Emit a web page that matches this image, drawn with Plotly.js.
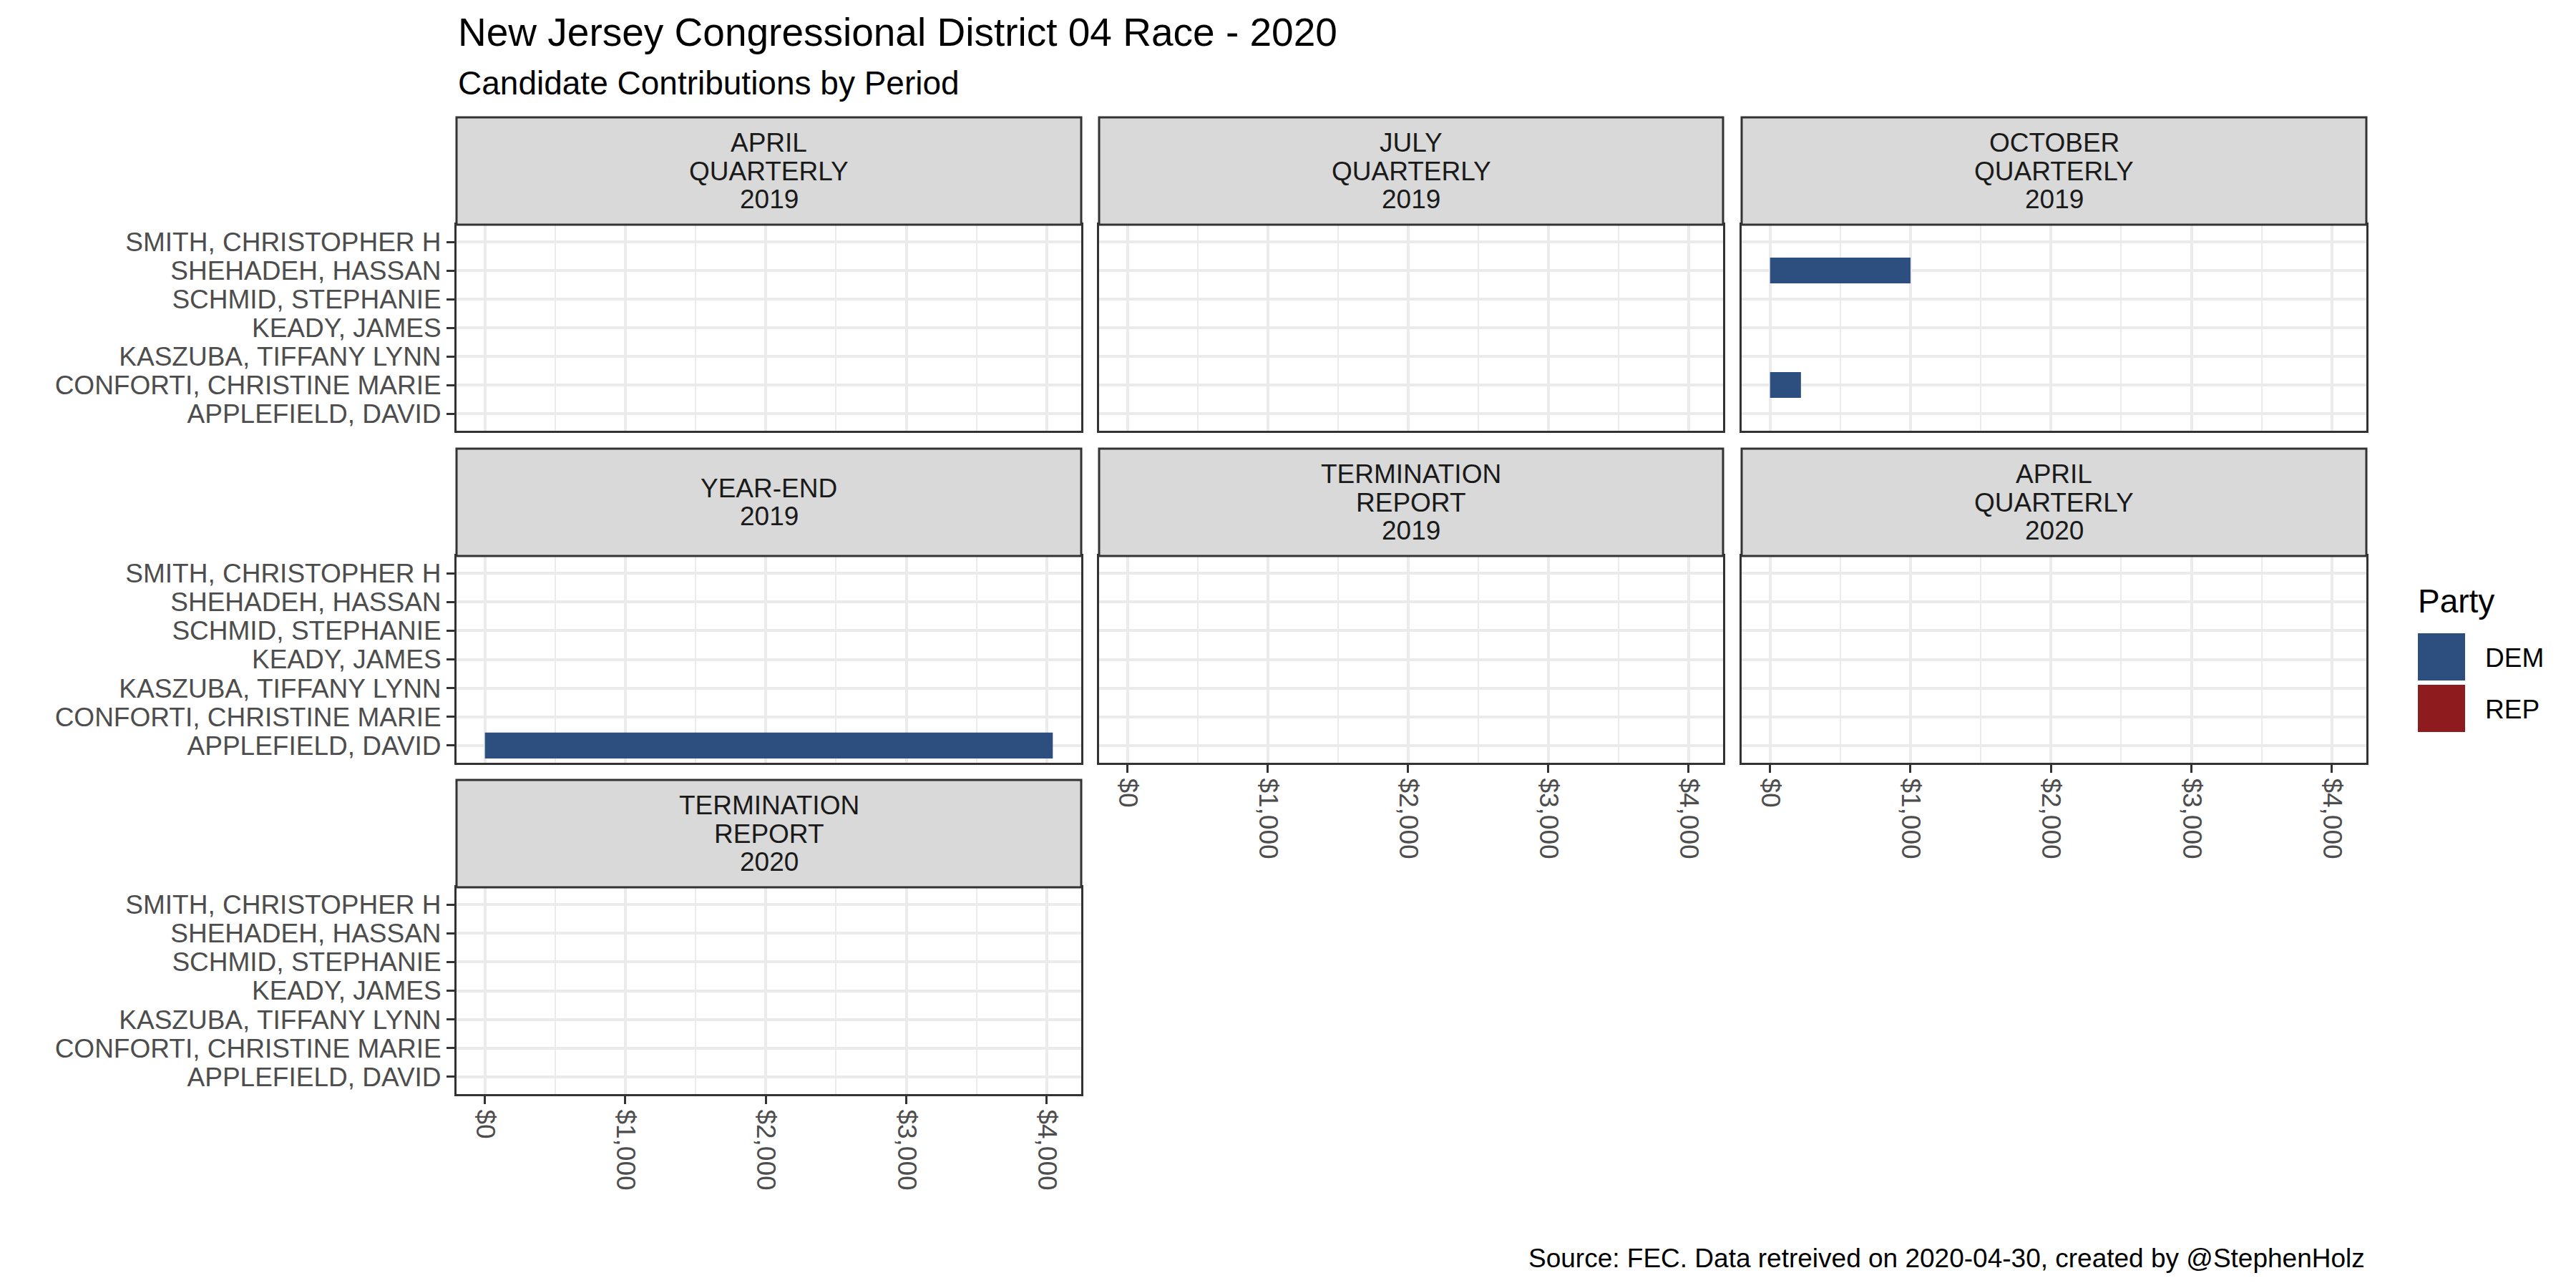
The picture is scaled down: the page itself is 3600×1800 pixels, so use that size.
<!DOCTYPE html>
<html>
<head>
<meta charset="utf-8">
<script src="https://cdn.plot.ly/plotly-3.0.1.min.js"></script>
<style>html,body{margin:0;padding:0;background:#fff;} #chart{width:3600px;height:1800px;}</style>
</head>
<body>
<div id="chart"></div>
<script>
// ---------------- data ----------------
const candidates = ["APPLEFIELD, DAVID", "CONFORTI, CHRISTINE MARIE", "KASZUBA, TIFFANY LYNN",
  "KEADY, JAMES", "SCHMID, STEPHANIE", "SHEHADEH, HASSAN", "SMITH, CHRISTOPHER H"]; // bottom to top
const periods = ["APRIL QUARTERLY 2019", "JULY QUARTERLY 2019", "OCTOBER QUARTERLY 2019",
  "YEAR-END 2019", "TERMINATION REPORT 2019", "APRIL QUARTERLY 2020", "TERMINATION REPORT 2020"];
const periodStripLines = [["APRIL", "QUARTERLY", "2019"], ["JULY", "QUARTERLY", "2019"],
  ["OCTOBER", "QUARTERLY", "2019"], ["YEAR-END", "2019"], ["TERMINATION", "REPORT", "2019"],
  ["APRIL", "QUARTERLY", "2020"], ["TERMINATION", "REPORT", "2020"]];
const contribPeriod = ["OCTOBER QUARTERLY 2019", "OCTOBER QUARTERLY 2019", "YEAR-END 2019"];
const contribCandidate = ["SHEHADEH, HASSAN", "CONFORTI, CHRISTINE MARIE", "APPLEFIELD, DAVID"];
const contribAmount = [1000, 220, 4043];
const contribParty = ["DEM", "DEM", "DEM"];
const parties = ["DEM", "REP"];
const partyColors = ["#2C4F80", "#8E1B1E"];
const xTickValues = [0, 1000, 2000, 3000, 4000];
const xTickLabels = ["$0", "$1,000", "$2,000", "$3,000", "$4,000"];

// ---------------- layout geometry (px) ----------------
const W = 3600, H = 1800;
const colX = [[638, 1511], [1536, 2408], [2434, 3307]];
const rowPanel = [[314, 602], [777, 1066], [1240, 1529]];
const rowStrip = [[164, 314], [627, 777], [1090, 1240]];
const FONT = "Liberation Sans, Arial, sans-serif";
const px = v => v / W;
const py = v => 1 - v / H;

const maxAmt = Math.max(...contribAmount);
const xRange = [-0.05 * maxAmt, 1.05 * maxAmt];

const traces = [];
const layout = {
  width: W, height: H,
  margin: {l: 0, r: 0, t: 0, b: 0},
  paper_bgcolor: "#ffffff", plot_bgcolor: "#ffffff",
  font: {family: FONT, color: "#4D4D4D", size: 37},
  showlegend: false,
  barmode: "overlay",
  shapes: [], annotations: []
};

const nCols = 3;
periods.forEach((p, i) => {
  const row = Math.floor(i / nCols), col = i % nCols;
  const sfx = i === 0 ? "" : String(i + 1);
  const isLeft = col === 0;
  const belowIdx = i + nCols;
  const isBottom = belowIdx >= periods.length;

  parties.forEach((party, k) => {
    const xs = [], ys = [];
    contribPeriod.forEach((cp, j) => {
      if (cp === p && contribParty[j] === party) { xs.push(contribAmount[j]); ys.push(contribCandidate[j]); }
    });
    traces.push({
      type: "bar", orientation: "h", x: xs, y: ys, width: 0.9,
      marker: {color: partyColors[k], line: {width: 0}},
      xaxis: "x" + sfx, yaxis: "y" + sfx, name: party, hoverinfo: "skip"
    });
  });

  layout["xaxis" + sfx] = {
    domain: [px(colX[col][0]), px(colX[col][1])],
    anchor: "y" + sfx,
    range: xRange, type: "linear", fixedrange: true,
    tickvals: xTickValues, ticktext: xTickLabels,
    showticklabels: isBottom, tickangle: 90,
    ticks: isBottom ? "outside" : "", ticklen: 11, tickwidth: 3, tickcolor: "#333333",
    tickfont: {family: FONT, size: 37, color: "#4D4D4D"},
    showgrid: true, gridcolor: "#EBEBEB", gridwidth: 4,
    minor: {dtick: 500, tick0: 0, showgrid: true, gridcolor: "#EBEBEB", gridwidth: 2, ticks: ""},
    zeroline: false,
    showline: true, mirror: true, linecolor: "#333333", linewidth: 3
  };
  layout["yaxis" + sfx] = {
    domain: [py(rowPanel[row][1]), py(rowPanel[row][0])],
    anchor: "x" + sfx,
    type: "category", categoryorder: "array", categoryarray: candidates,
    tickvals: candidates, range: [-0.6, candidates.length - 0.4], fixedrange: true,
    showticklabels: isLeft, ticks: isLeft ? "outside" : "", ticklen: 11, tickwidth: 3, tickcolor: "#333333",
    tickfont: {family: FONT, size: 37, color: "#4D4D4D"},
    showgrid: true, gridcolor: "#EBEBEB", gridwidth: 4,
    zeroline: false,
    showline: true, mirror: true, linecolor: "#333333", linewidth: 3
  };

  // strip
  layout.shapes.push({
    type: "rect", xref: "paper", yref: "paper", layer: "above",
    x0: px(colX[col][0]), x1: px(colX[col][1]), y0: py(rowStrip[row][1]), y1: py(rowStrip[row][0]),
    fillcolor: "#D9D9D9", line: {color: "#333333", width: 3}
  });
  const lines = periodStripLines[i];
  const cy = (rowStrip[row][0] + rowStrip[row][1]) / 2;
  const sp = 39.5;
  lines.forEach((t, li) => {
    const yy = cy + (li - (lines.length - 1) / 2) * sp;
    layout.annotations.push({
      xref: "paper", yref: "paper", x: px((colX[col][0] + colX[col][1]) / 2), y: py(yy),
      xanchor: "center", yanchor: "middle", text: t, showarrow: false,
      font: {family: FONT, size: 37, color: "#1A1A1A"}
    });
  });
});

// titles
layout.annotations.push({
  xref: "paper", yref: "paper", x: px(638), y: py(45), xanchor: "left", yanchor: "middle",
  text: "New Jersey Congressional District 04 Race - 2020", showarrow: false,
  font: {family: FONT, size: 55, color: "#000000"}
});
layout.annotations.push({
  xref: "paper", yref: "paper", x: px(638), y: py(116), xanchor: "left", yanchor: "middle",
  text: "Candidate Contributions by Period", showarrow: false,
  font: {family: FONT, size: 46, color: "#000000"}
});
layout.annotations.push({
  xref: "paper", yref: "paper", x: px(3307), y: py(1758), xanchor: "right", yanchor: "middle",
  text: "Source: FEC. Data retreived on 2020-04-30, created by @StephenHolz", showarrow: false,
  font: {family: FONT, size: 37, color: "#000000"}
});

// legend
layout.annotations.push({
  xref: "paper", yref: "paper", x: px(3377), y: py(840), xanchor: "left", yanchor: "middle",
  text: "Party", showarrow: false, font: {family: FONT, size: 46, color: "#000000"}
});
parties.forEach((party, k) => {
  const y0 = 885 + k * 72;
  layout.shapes.push({
    type: "rect", xref: "paper", yref: "paper",
    x0: px(3379), x1: px(3445), y0: py(y0 + 66), y1: py(y0),
    fillcolor: partyColors[k], line: {width: 0}
  });
  layout.annotations.push({
    xref: "paper", yref: "paper", x: px(3471), y: py(y0 + 34), xanchor: "left", yanchor: "middle",
    text: party, showarrow: false, font: {family: FONT, size: 37, color: "#000000"}
  });
});

Plotly.newPlot("chart", traces, layout, {displayModeBar: false, staticPlot: true});
</script>
</body>
</html>
